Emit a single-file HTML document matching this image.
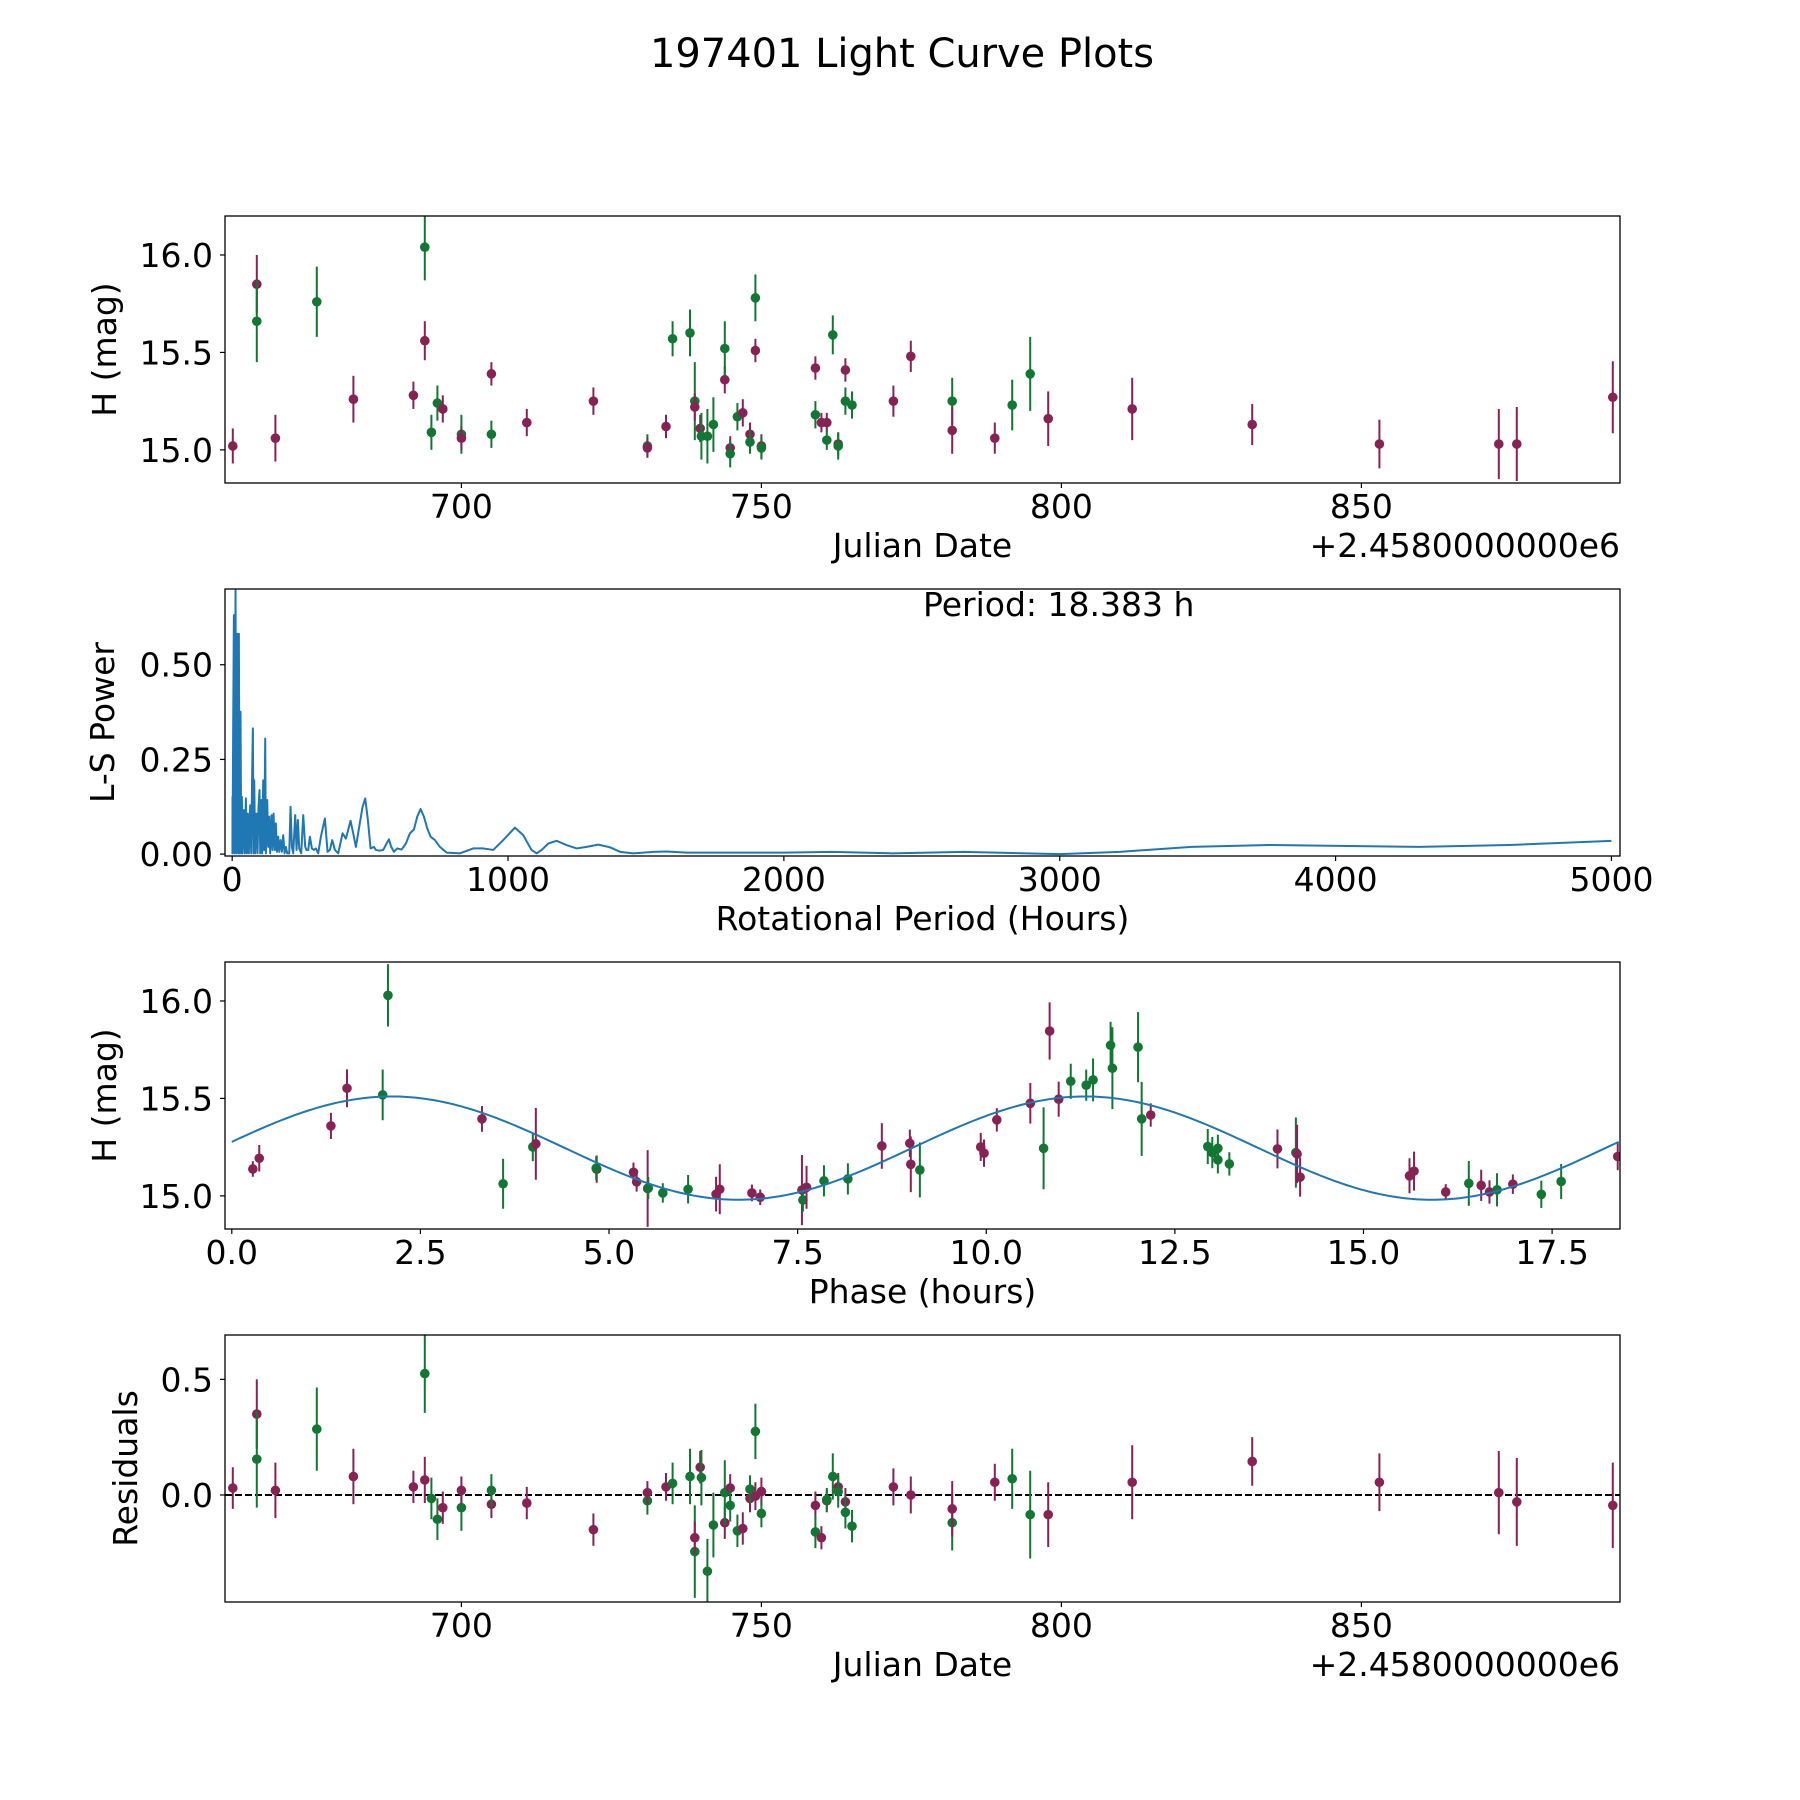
<!DOCTYPE html>
<html><head><meta charset="utf-8"><style>
html,body{margin:0;padding:0;background:#fff;}
svg{display:block;font-family:"DejaVu Sans","Liberation Sans",sans-serif;}
</style></head><body>
<svg id="fig" width="1800" height="1800" viewBox="0 0 1800 1800" xmlns="http://www.w3.org/2000/svg">
<rect width="1800" height="1800" fill="#fff"/>
<text x="902" y="67" font-size="40" text-anchor="middle" textLength="504" lengthAdjust="spacingAndGlyphs">197401 Light Curve Plots</text>
</svg>
<script>
// ---- Panel 1 & 4 data (Julian Date - 2458000) ----
const dates=[661.9,665.9,665.9,669.0,675.9,682.0,692.0,693.9,693.9,695.0,696.0,696.9,700.0,700.0,705.0,705.0,710.9,722.0,731.0,731.0,734.1,735.2,738.1,738.9,738.9,739.8,740.0,741.0,742.0,743.9,743.9,744.8,744.8,746.0,746.9,748.1,748.1,749.0,749.0,750.0,750.0,759.0,759.0,760.0,760.9,760.9,761.9,762.8,762.8,764.0,764.0,765.1,772.0,774.9,781.8,781.8,788.9,791.8,794.8,797.8,811.8,831.8,853.0,872.9,875.9,891.9];
const mags=[15.02,15.85,15.66,15.06,15.76,15.26,15.28,16.04,15.56,15.09,15.24,15.21,15.08,15.06,15.39,15.08,15.14,15.25,15.02,15.01,15.12,15.57,15.60,15.25,15.22,15.11,15.07,15.07,15.13,15.36,15.52,15.01,14.98,15.17,15.19,15.08,15.04,15.51,15.78,15.02,15.01,15.42,15.18,15.14,15.14,15.05,15.59,15.03,15.02,15.41,15.25,15.23,15.25,15.48,15.25,15.10,15.06,15.23,15.39,15.16,15.21,15.13,15.03,15.03,15.03,15.27];
const errs=[0.09,0.15,0.21,0.12,0.18,0.12,0.07,0.17,0.10,0.09,0.09,0.07,0.10,0.06,0.06,0.07,0.07,0.07,0.06,0.05,0.06,0.09,0.12,0.20,0.07,0.07,0.12,0.14,0.14,0.07,0.14,0.06,0.07,0.07,0.07,0.06,0.06,0.06,0.12,0.06,0.06,0.06,0.07,0.05,0.05,0.05,0.10,0.06,0.07,0.06,0.07,0.07,0.08,0.08,0.12,0.12,0.08,0.13,0.19,0.14,0.16,0.105,0.125,0.18,0.19,0.185];
const bands=["P","P","G","P","G","P","P","G","P","G","G","P","G","P","P","G","P","P","G","P","P","G","G","G","P","P","G","G","G","P","G","P","G","G","P","P","G","P","G","P","G","P","G","P","P","G","G","P","G","P","G","G","P","P","G","P","P","G","G","P","P","P","P","P","P","P"];
const resids=[0.03,0.35,0.155,0.02,0.285,0.08,0.035,0.525,0.065,-0.015,-0.105,-0.055,-0.055,0.02,-0.04,0.02,-0.035,-0.15,-0.025,0.01,0.035,0.05,0.08,-0.245,-0.185,0.12,0.075,-0.33,-0.13,-0.12,0.01,0.03,-0.045,-0.155,-0.145,-0.015,0.025,-0.005,0.275,0.015,-0.08,-0.045,-0.16,-0.185,-0.025,-0.02,0.08,0.035,0.015,-0.03,-0.075,-0.135,0.035,0.0,-0.12,-0.06,0.055,0.07,-0.085,-0.085,0.055,0.145,0.055,0.01,-0.03,-0.045];
// ---- Panel 2: periodogram ----
const periods=[1,1.2,1.3,3.7,6.2,8.6,12.2,14.6,18.2,21.9,24.3,26.7,30.3,32.8,35.2,37.6,42.4,46.0,49.7,53.3,56.9,60.5,65.4,69.0,72.6,75.0,77.5,79.9,83.5,88.3,92.0,95.6,99.2,101.6,105.3,108.9,112.5,116.1,119.8,122.2,127.0,130.6,134.3,137.9,142.7,146.4,150.0,154.8,158.4,162.1,166.9,170.5,175.4,180.2,185.0,189.9,194.7,199.5,206.8,211.6,216.5,221.3,228.5,233.4,238.2,243.0,250.3,257.6,264.8,269.6,275.7,281.7,289.0,296.2,303.5,311.9,321.6,336.1,345.8,354.2,362.7,372.4,384.5,400.2,412.2,429.2,438.8,448.5,460.6,472.7,482.3,492.0,501.7,513.8,521.0,533.1,547.6,559.7,568.2,576.6,586.3,598.4,614.1,629.8,644.3,658.8,670.9,683.0,695.1,707.2,719.2,734.9,753.1,777.3,825.6,874.0,910.2,946.5,982.7,1025,1055,1085,1104,1122,1146,1176,1212,1249,1285,1327,1370,1406,1454,1527,1575,1648,1768,2000,2174,2392,2652,3000,3217,3478,3761,3978,4304,4630,5000];
const powers=[0.0,0.151,0.002,0.345,0.631,0.002,0.697,0.002,0.582,0.002,0.582,0.002,0.376,0.002,0.151,0.002,0.116,0.002,0.147,0.002,0.107,0.002,0.129,0.002,0.222,0.332,0.002,0.195,0.002,0.107,0.002,0.125,0.169,0.002,0.143,0.002,0.195,0.011,0.305,0.002,0.143,0.019,0.099,0.002,0.103,0.011,0.107,0.011,0.081,0.006,0.046,0.006,0.037,0.006,0.050,0.002,0.019,0.002,0.002,0.125,0.019,0.002,0.103,0.011,0.090,0.015,0.002,0.103,0.019,0.011,0.011,0.046,0.015,0.011,0.015,0.002,0.046,0.094,0.006,0.011,0.037,0.011,0.002,0.055,0.041,0.088,0.055,0.019,0.072,0.125,0.147,0.090,0.015,0.019,0.011,0.009,0.011,0.028,0.039,0.019,0.006,0.015,0.012,0.028,0.055,0.065,0.099,0.119,0.099,0.068,0.046,0.037,0.019,0.004,0.002,0.015,0.015,0.011,0.037,0.070,0.050,0.011,0.002,0.011,0.028,0.035,0.024,0.015,0.019,0.025,0.018,0.006,0.002,0.006,0.007,0.004,0.004,0.004,0.006,0.002,0.006,0.0,0.006,0.019,0.024,0.022,0.019,0.024,0.035];
const bestPeriodLabel="Period: 18.383 h";
// ---- Panel 3: phased curve ----
const phases=[0.279,0.364,1.314,1.527,2.0,2.07,3.316,3.596,3.99,4.03,4.837,4.83,5.324,5.366,5.512,5.52,5.713,6.048,6.419,6.468,6.894,7.004,7.557,7.57,7.618,7.849,8.166,8.616,8.987,9.0,9.12,9.927,9.97,10.14,10.584,10.76,10.84,10.96,11.12,11.325,11.416,11.648,11.672,12.012,12.06,12.18,12.936,12.996,13.07,13.07,13.222,13.86,14.104,14.12,14.16,15.61,15.67,16.09,16.396,16.56,16.67,16.77,16.98,17.357,17.62,18.37];
const pmags=[15.138,15.193,15.359,15.552,15.518,16.029,15.395,15.062,15.251,15.267,15.137,15.142,15.121,15.072,15.038,15.04,15.015,15.034,15.009,15.034,15.015,14.993,15.03,14.979,15.044,15.077,15.087,15.256,15.27,15.162,15.133,15.251,15.219,15.39,15.475,15.244,15.846,15.496,15.588,15.568,15.595,15.773,15.655,15.763,15.395,15.415,15.253,15.222,15.244,15.185,15.164,15.241,15.222,15.215,15.096,15.103,15.127,15.02,15.064,15.054,15.02,15.031,15.06,15.008,15.074,15.202];
const perrs=[0.04,0.068,0.067,0.097,0.13,0.16,0.066,0.128,0.073,0.184,0.07,0.06,0.05,0.05,0.197,0.057,0.05,0.073,0.089,0.128,0.043,0.04,0.18,0.06,0.11,0.08,0.08,0.117,0.07,0.143,0.141,0.072,0.07,0.06,0.104,0.21,0.147,0.09,0.09,0.08,0.11,0.12,0.21,0.18,0.19,0.06,0.09,0.08,0.07,0.07,0.06,0.1,0.18,0.15,0.1,0.09,0.1,0.04,0.115,0.08,0.06,0.085,0.05,0.07,0.09,0.07];
const pbands=["P","P","P","P","G","G","P","G","G","P","P","G","P","P","P","G","G","G","P","P","P","P","P","G","P","G","G","P","P","P","G","P","P","P","P","G","P","P","G","G","G","G","G","G","G","P","G","G","G","G","G","P","G","P","P","P","P","P","G","P","P","G","P","G","G","P"];
const fitMean=15.245, fitAmp=0.265, fitPeak=2.12, fitHalfPeriod=18.383/2;

const NS="http://www.w3.org/2000/svg";
const svg=document.getElementById('fig');
const COL={P:"#882255",G:"#117733"};
const FS=33;
function el(tag,attrs,parent){const e=document.createElementNS(NS,tag);for(const k in attrs)e.setAttribute(k,attrs[k]);(parent||svg).appendChild(e);return e;}
function scale(d0,d1,p0,p1){return v=>p0+(v-d0)/(d1-d0)*(p1-p0);}
const L=225,R=1620,H=267;
const tops=[216,589,962,1335];

function axes(i,xdom,ydom,xticks,xtl,yticks,ytl,xlabel,ylabel,ylabelX,offsetText){
  const T=tops[i],B=T+H;
  const g=el('g',{});
  
  
  const sx=scale(xdom[0],xdom[1],L,R), sy=scale(ydom[0],ydom[1],B,T);
  const clipId='clip'+i;
  const cp=el('clipPath',{id:clipId},g);el('rect',{x:L,y:T,width:R-L,height:H},cp);
  const plot=el('g',{'clip-path':'url(#'+clipId+')'},g);
  
  
  xticks.forEach((v,k)=>{const x=sx(v);
    const t=el('line',{x1:x,x2:x,y1:B,y2:B+5,stroke:'#000','stroke-width':1.2},g);
    
    const lb=el('text',{x:x,y:B+35,'font-size':FS,'text-anchor':'middle'},g);lb.textContent=xtl[k];
    });
  yticks.forEach((v,k)=>{const y=sy(v);
    const t=el('line',{x1:L-5,x2:L,y1:y,y2:y,stroke:'#000','stroke-width':1.2},g);
    
    const lb=el('text',{x:L-12,y:y+12,'font-size':FS,'text-anchor':'end'},g);lb.textContent=ytl[k];
    });
  const xl=el('text',{x:(L+R)/2,y:B+74,'font-size':FS,'text-anchor':'middle'},g);xl.textContent=xlabel;
  
  const cy=(T+B)/2;
  const yl=el('text',{x:ylabelX,y:cy,'font-size':FS,'text-anchor':'middle',transform:'rotate(-90 '+ylabelX+' '+cy+')'},g);yl.textContent=ylabel;
  
  if(offsetText){const o=el('text',{x:R,y:B+74,'font-size':FS,'text-anchor':'end'},g);o.textContent=offsetText;
    }
  return {g,plot,sx,sy,T,B};
}
function frame(a){const f=el('rect',{x:L,y:a.T,width:R-L,height:H,fill:'none',stroke:'#000','stroke-width':1.3},a.g);
  }
function errPoints(a,xs,ys,es,bs,name){
  xs.forEach((xv,k)=>{const x=a.sx(xv),c=COL[bs[k]];
    const ln=el('line',{x1:x,x2:x,y1:a.sy(ys[k]-es[k]),y2:a.sy(ys[k]+es[k]),stroke:c,'stroke-width':2},a.plot);
    
    const ci=el('circle',{cx:x,cy:a.sy(ys[k]),r:4.8,fill:c},a.plot);
    });
}

// Panel 1
const jdDom=[660.6,893.1];
const a1=axes(0,jdDom,[14.83,16.2],[700,750,800,850],["700","750","800","850"],[15,15.5,16],["15.0","15.5","16.0"],"Julian Date","H (mag)",116,"+2.4580000000e6");
errPoints(a1,dates,mags,errs,bands,'light-curve');frame(a1);

// Panel 2
const a2=axes(1,[-26,5031],[-0.005,0.7],[0,1000,2000,3000,4000,5000],["0","1000","2000","3000","4000","5000"],[0,0.25,0.5],["0.00","0.25","0.50"],"Rotational Period (Hours)","L-S Power",114,null);
let d=periods.map((p,k)=>(k?'L':'M')+a2.sx(p).toFixed(2)+' '+a2.sy(powers[k]).toFixed(2)).join(' ');
const pl=el('path',{d:d,fill:'none',stroke:'#1f77b4','stroke-width':2,'stroke-linejoin':'round'},a2.plot);

const pt=el('text',{x:923,y:616,'font-size':FS},a2.g);pt.textContent=bestPeriodLabel;

frame(a2);

// Panel 3
const a3=axes(2,[-0.09,18.4],[14.83,16.2],[0,2.5,5,7.5,10,12.5,15,17.5],["0.0","2.5","5.0","7.5","10.0","12.5","15.0","17.5"],[15,15.5,16],["15.0","15.5","16.0"],"Phase (hours)","H (mag)",116,null);
errPoints(a3,phases,pmags,perrs,pbands,'phased');
let fd='';for(let k=0;k<=400;k++){const t=18.383*k/400;const m=fitMean+fitAmp*Math.cos(2*Math.PI*(t-fitPeak)/fitHalfPeriod);fd+=(k?'L':'M')+a3.sx(t).toFixed(2)+' '+a3.sy(m).toFixed(2)+' ';}
const fl=el('path',{d:fd,fill:'none',stroke:'#1f77b4','stroke-width':2},a3.plot);

frame(a3);

// Panel 4
const a4=axes(3,jdDom,[-0.463,0.692],[700,750,800,850],["700","750","800","850"],[0,0.5],["0.0","0.5"],"Julian Date","Residuals",137,"+2.4580000000e6");
const zl=el('line',{x1:L,x2:R,y1:a4.sy(0),y2:a4.sy(0),stroke:'#000','stroke-width':2,'stroke-dasharray':'7,3'},a4.plot);

errPoints(a4,dates,resids,errs,bands,'residual');frame(a4);
</script>
</body></html>
